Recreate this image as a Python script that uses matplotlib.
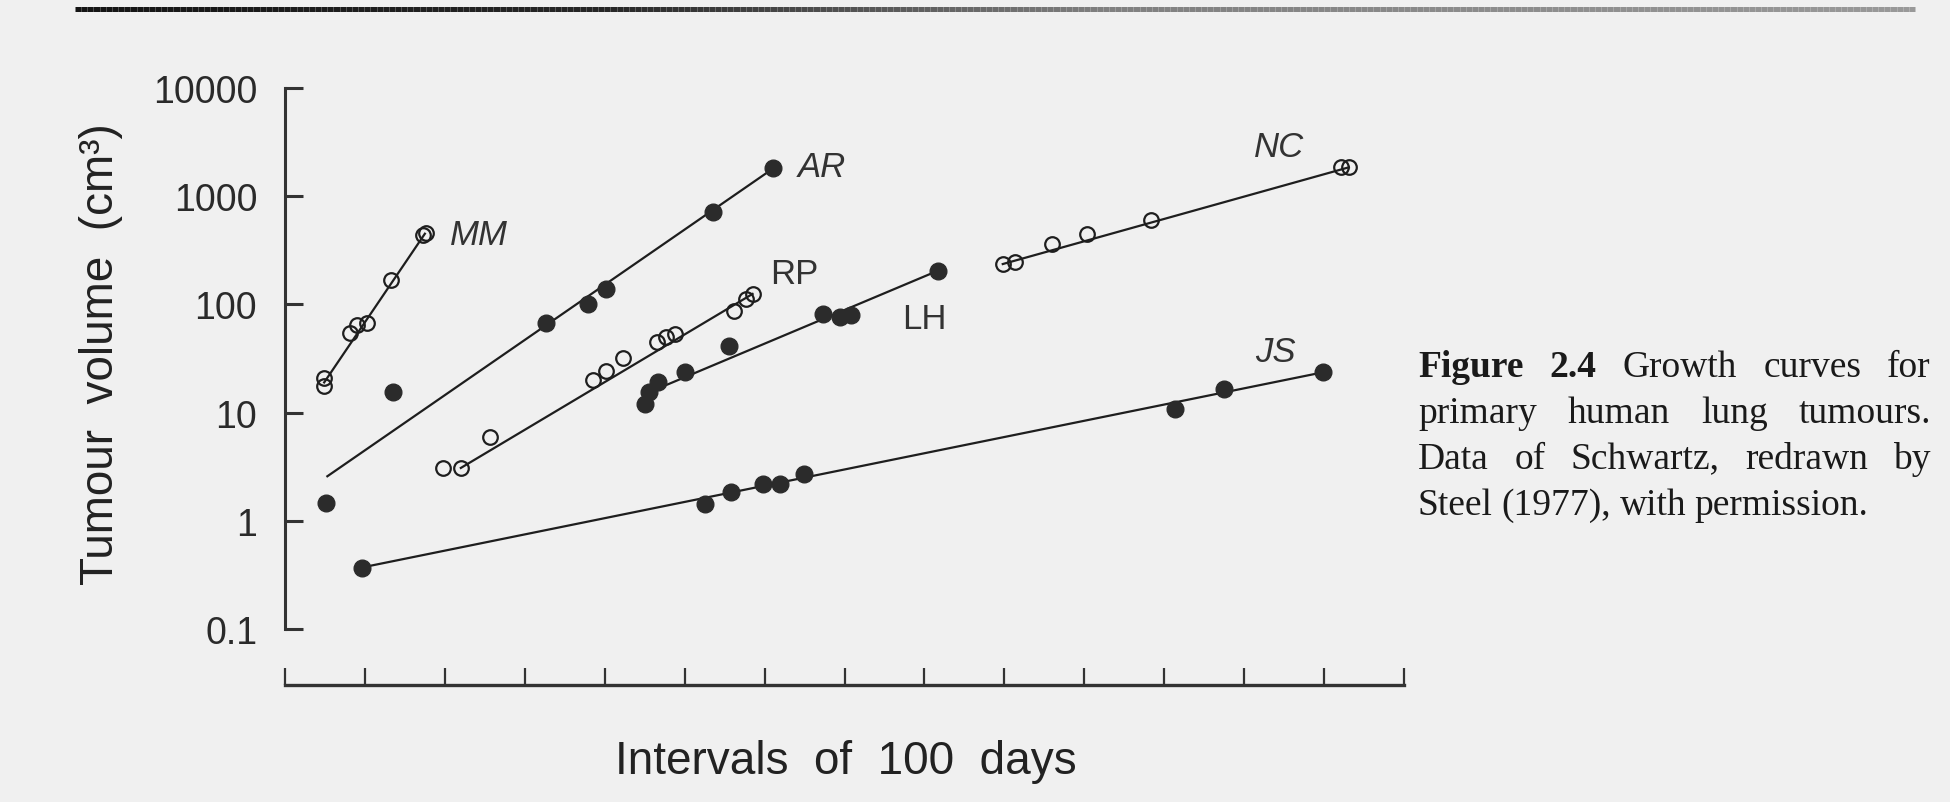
import matplotlib.pyplot as plt
from matplotlib.collections import LineCollection
from matplotlib.ticker import NullLocator
import numpy as np

# values: x in intervals of 100 days, y in cm^3
mm_x = [0.49, 0.49, 0.81, 0.90, 1.02, 1.33, 1.73, 1.76]
mm_y = [17.5, 20.8, 54, 64, 68, 168, 440, 460]
mm_fit_x = [0.49, 1.75]
mm_fit_y = [19, 450]

ar_x = [0.51, 1.35, 3.27, 3.79, 4.02, 5.35, 6.11]
ar_y = [1.45, 15.6, 68, 101, 139, 710, 1811]
ar_fit_x = [0.53, 6.11]
ar_fit_y = [2.58, 1811]

rp_x = [1.98, 2.20, 2.56, 3.85, 4.02, 4.23, 4.65, 4.77, 4.88, 5.62, 5.77, 5.85]
rp_y = [3.08, 3.08, 5.9, 20, 24, 32, 45, 50, 53, 87, 112, 125]
rp_fit_x = [2.20, 5.85]
rp_fit_y = [3.08, 125]

lh_x = [4.50, 4.56, 4.67, 5.00, 5.56, 6.73, 6.94, 7.08, 8.17]
lh_y = [12.0, 15.4, 19, 23.6, 41.5, 81, 76, 79, 205]
lh_fit_x = [4.65, 8.17]
lh_fit_y = [16.5, 205]

nc_x = [8.98, 9.13, 9.60, 10.04, 10.83, 13.21, 13.31]
nc_y = [236, 245, 361, 448, 600, 1849, 1849]
nc_fit_x = [8.98, 13.31]
nc_fit_y = [236, 1849]

js_x = [0.96, 5.25, 5.58, 5.98, 6.19, 6.49, 11.14, 11.75, 12.99]
js_y = [0.37, 1.43, 1.83, 2.19, 2.19, 2.71, 10.8, 16.5, 23.6]
js_fit_x = [0.96, 12.99]
js_fit_y = [0.37, 23.6]

x_ticks = list(range(15))
y_ticks = [0.1, 1, 10, 100, 1000, 10000]
y_tick_labels = ["0.1", "1", "10", "100", "1000", "10000"]

caption_lines = [
    ["Figure", "2.4", "Growth", "curves", "for"],
    ["primary", "human", "lung", "tumours."],
    ["Data", "of", "Schwartz,", "redrawn", "by"],
    ["Steel", "(1977),", "with", "permission."],
]

BG = "#f0f0f0"
INK = "#1e1e1e"
SANS = ["Liberation Sans", "DejaVu Sans"]
SERIF = ["Liberation Serif", "DejaVu Serif"]

W, H = 1950, 803
fig = plt.figure(figsize=(W / 100, H / 100), dpi=100)
fig.patch.set_facecolor(BG)

# axes box in pixels: x 285..1404, y (from top) 89..686
ax = fig.add_axes([285 / W, 117 / H, (1404 - 285) / W, (686 - 89) / H])
ax.set_facecolor("none")
ax.set_yscale("log")
ax.set_ylim(10 ** -1.5176, 1e4)
ax.set_xlim(0, 14)

for s in ["top", "right"]:
    ax.spines[s].set_visible(False)
ax.spines["left"].set_bounds(0.1, 1e4)
ax.spines["left"].set_linewidth(2.2)
ax.spines["left"].set_color("#333333")
ax.spines["bottom"].set_linewidth(2.4)
ax.spines["bottom"].set_color("#333333")

ax.set_xticks(x_ticks)
ax.tick_params(axis="x", direction="in", length=12, width=1.6,
               color="#333333", labelbottom=False)
ax.set_yticks(y_ticks)
ax.set_yticklabels(y_tick_labels, fontfamily=SANS)
ax.yaxis.set_minor_locator(NullLocator())
ax.tick_params(axis="y", direction="in", length=13, width=2.2,
               color="#333333", pad=20, labelsize=27, labelcolor="#2a2a2a")

series = [
    ("MM", mm_x, mm_y, mm_fit_x, mm_fit_y, True),
    ("AR", ar_x, ar_y, ar_fit_x, ar_fit_y, False),
    ("RP", rp_x, rp_y, rp_fit_x, rp_fit_y, True),
    ("LH", lh_x, lh_y, lh_fit_x, lh_fit_y, False),
    ("NC", nc_x, nc_y, nc_fit_x, nc_fit_y, True),
    ("JS", js_x, js_y, js_fit_x, js_fit_y, False),
]

for name, x, y, fx, fy, hollow in series:
    ax.plot(fx, fy, color=INK, lw=1.6, zorder=2, clip_on=False)
    if hollow:
        ax.plot(x, y, "o", ms=10.5, mfc="none", mec=INK, mew=1.6,
                zorder=3, clip_on=False)
    else:
        ax.plot(x, y, "o", ms=12, mfc="#2b2b2b", mec="#2b2b2b",
                zorder=3, clip_on=False)

# curve labels (left edge, vertical centre)
label_at = {"MM": (2.06, 447), "AR": (6.41, 1901), "RP": (6.07, 195),
            "LH": (7.72, 74.8), "NC": (12.12, 2851), "JS": (12.14, 37)}
label_italic = {"MM": True, "AR": True, "RP": False, "LH": False,
                "NC": True, "JS": True}
for name, (lx, ly) in label_at.items():
    ax.text(lx, ly, name, fontsize=25, fontfamily=SANS, color="#333333",
            style="italic" if label_italic[name] else "normal",
            ha="left", va="center")

# axis titles
fig.text(846 / W, 1 - 762 / H, "Intervals  of  100  days", fontsize=33,
         fontfamily=SANS, color="#222222", ha="center", va="center")
fig.text(101 / W, 1 - 354 / H, "Tumour  volume  (cm\u00b3)", fontsize=33,
         fontfamily=SANS, color="#222222", ha="center", va="center",
         rotation=90)

# rule across the top of the page, darker on the left as in the scan
xs = np.linspace(75, 1915, 300)
pts = np.column_stack([xs / W, np.full_like(xs, 1 - 10 / H)])
segs = np.stack([pts[:-1], pts[1:]], axis=1)
shade = np.interp(xs[:-1], [75, 600, 1100, 1915], [0.08, 0.15, 0.5, 0.6])
rule = LineCollection(segs, colors=[(g, g, g) for g in shade],
                      linewidths=3.6, transform=fig.transFigure)
fig.add_artist(rule)

# justified caption on the right
fig.canvas.draw()
renderer = fig.canvas.get_renderer()
cap_left, cap_right = 1418, 1931
baselines = [377, 423, 469, 515]
for i, words in enumerate(caption_lines):
    texts = []
    for j, w in enumerate(words):
        bold = (i == 0 and j < 2)
        t = fig.text(0, 1 - baselines[i] / H, w, fontsize=27,
                     fontfamily=SERIF, color="#1a1a1a",
                     fontweight="bold" if bold else "normal",
                     ha="left", va="baseline")
        texts.append(t)
    widths = [t.get_window_extent(renderer).width for t in texts]
    last = i == len(caption_lines) - 1
    if last:
        gap = 8.5
    else:
        gap = (cap_right - cap_left - sum(widths)) / (len(words) - 1)
    pos = cap_left
    for t, wd in zip(texts, widths):
        t.set_x(pos / W)
        pos += wd + gap

fig.savefig("out.png", dpi=100, facecolor=BG)
